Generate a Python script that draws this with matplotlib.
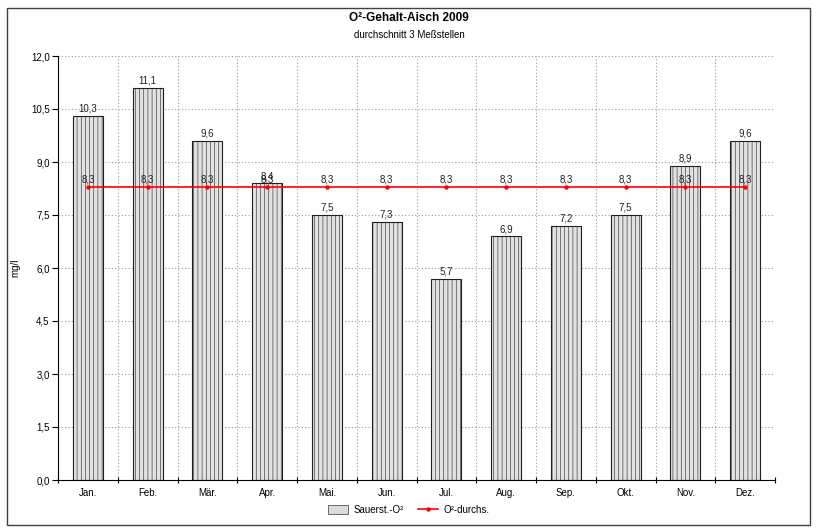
import numpy as np
import matplotlib
matplotlib.use('Agg')
import matplotlib.pyplot as plt
from matplotlib.patches import Rectangle
from matplotlib.lines import Line2D

# Data
months = ['Jan.', 'Feb.', 'Mär.', 'Apr.', 'Mai.', 'Jun.', 'Jul.', 'Aug.', 'Sep.', 'Okt.', 'Nov.', 'Dez.']
oxygen = [10.3, 11.1, 9.6, 8.4, 7.5, 7.3, 5.7, 6.9, 7.2, 7.5, 8.9, 9.6]
average = [8.3] * 12
yticks = [0.0, 1.5, 3.0, 4.5, 6.0, 7.5, 9.0, 10.5, 12.0]


def de(v):
    return f'{v:.1f}'.replace('.', ',')


plt.rcParams['font.family'] = ['Liberation Sans', 'DejaVu Sans']
plt.rcParams['hatch.color'] = '#d2d2d2'
plt.rcParams['hatch.linewidth'] = 0.4

fig = plt.figure(figsize=(8.18, 5.32), dpi=100)
ax = fig.add_axes([58 / 818, 1 - 480 / 532, (775 - 58) / 818, (480 - 56) / 532])

# Outer frame of the chart
fig.patches.append(Rectangle((7 / 818, 1 - 525 / 532), (810 - 7) / 818, (525 - 8) / 532,
                             transform=fig.transFigure, fill=False, edgecolor='#404040', lw=1.0))

x = np.arange(len(months))
ax.bar(x, oxygen, width=0.5, color='#e2e2e2', edgecolor='#202020', linewidth=0.8,
       hatch='||||', zorder=2)
for xi, v in zip(x, oxygen):
    ax.text(xi, v + 0.06, de(v), ha='center', va='bottom', fontsize=7, color='#222222', zorder=4)

ax.plot(x, average, color='#ff0000', lw=1.2, marker='o', markersize=2.2, zorder=3)
for xi, v in zip(x, average):
    ax.text(xi, v + 0.06, de(v), ha='center', va='bottom', fontsize=7, color='#222222', zorder=4)

ax.set_xlim(-0.5, len(months) - 0.5)
ax.set_ylim(0, 12)
ax.set_yticks(yticks)
ax.set_yticklabels([de(t) for t in yticks], fontsize=7)
ax.set_xticks(x)
ax.set_xticklabels(months, fontsize=7)
ax.tick_params(axis='x', length=0, pad=6)
ax.tick_params(axis='y', length=4, width=0.8, pad=2)

# boundary ticks and dotted grid
bounds = np.arange(0.5, len(months) - 0.5, 1)
ax.set_xticks(list(bounds) + [-0.5, len(months) - 0.5], minor=True)
ax.tick_params(axis='x', which='minor', length=4, width=0.8, direction='inout')
for b in bounds:
    ax.axvline(b, color='#9a9a9a', lw=0.8, ls=(0, (1, 2)), zorder=1)
for t in yticks[1:]:
    ax.axhline(t, color='#9a9a9a', lw=0.8, ls=(0, (1, 2)), zorder=1)

for s in ['top', 'right']:
    ax.spines[s].set_visible(False)
for s in ['left', 'bottom']:
    ax.spines[s].set_linewidth(0.8)

ax.set_ylabel('mg/l', fontsize=7)
ax.yaxis.set_label_coords((20 - 58) / 717, 0.5)

fig.text(0.5, 1 - 18 / 532, 'O²-Gehalt-Aisch 2009', ha='center', va='center',
         fontsize=8.5, fontweight='bold')
fig.text(0.5, 1 - 35 / 532, 'durchschnitt 3 Meßstellen', ha='center', va='center', fontsize=7)

handles = [Rectangle((0, 0), 1, 1, facecolor='#dcdcdc', edgecolor='#555555', lw=0.6),
           Line2D([], [], color='#ff0000', lw=1.2, marker='o', markersize=2.2)]
fig.legend(handles, ['Sauerst.-O²', 'O²-durchs.'], loc='center', bbox_to_anchor=(0.5, 1 - 510 / 532),
           ncol=2, frameon=False, fontsize=7, handlelength=2.0, handleheight=1.0,
           columnspacing=1.5, handletextpad=0.6)

fig.savefig('out.png', dpi=100)
